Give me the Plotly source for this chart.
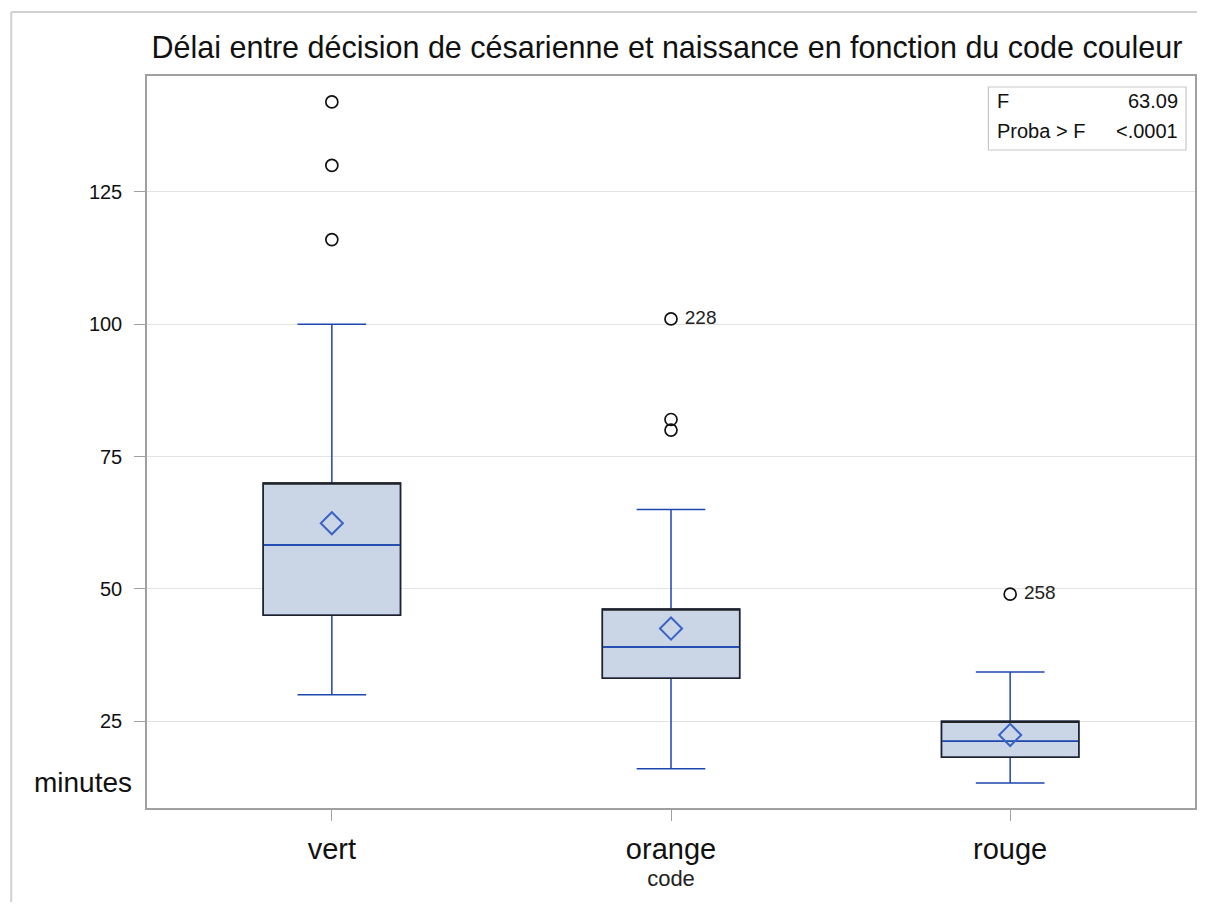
import plotly.graph_objects as go

categories = ["vert", "orange", "rouge"]
q1 = [45.0, 33.1, 18.2]
median = [58.3, 39.0, 21.2]
q3 = [70.0, 46.2, 25.0]
lower_whisker = [30.0, 16.0, 13.3]
upper_whisker = [100.0, 65.0, 34.3]
means = [62.4, 42.5, 22.4]

outlier_cat = ["vert", "vert", "vert", "orange", "orange", "orange", "rouge"]
outlier_val = [142.0, 130.0, 116.0, 101.0, 82.0, 80.0, 49.0]
outlier_lbl = ["", "", "", "228", "", "", "258"]

FONT = "Liberation Sans, Arial, sans-serif"
BLUE = "#1d47ae"
FILL = "#cad5e6"

# page offset (body margin) compensation
OX, OY = 8, 8
W, H = 1192, 894
PL, PR, PT, PB = 147 - OX, 1197 - OX, 76 - OY, 808 - OY
PW, PH = PR - PL, PB - PT


def px(x):
    return (x - OX - PL) / PW


def py(y):
    return (PB - (y - OY)) / PH


fig = go.Figure()

fig.add_trace(go.Box(
    x=categories, q1=q1, median=median, q3=q3,
    lowerfence=lower_whisker, upperfence=upper_whisker,
    fillcolor=FILL, line=dict(color=BLUE, width=1.5),
    whiskerwidth=0.5, width=0.405, boxpoints=False,
    showlegend=False, hoverinfo="skip",
))
fig.add_trace(go.Box(
    x=categories, q1=q1, median=q3, q3=q3,
    lowerfence=q1, upperfence=q3,
    fillcolor="rgba(0,0,0,0)", line=dict(color="#222222", width=1.5),
    whiskerwidth=0, width=0.405, boxpoints=False,
    showlegend=False, hoverinfo="skip",
))
fig.add_trace(go.Box(
    x=categories, q1=median, median=median, q3=median,
    lowerfence=median, upperfence=median,
    fillcolor="rgba(0,0,0,0)", line=dict(color=BLUE, width=1.5),
    whiskerwidth=0, width=0.40, boxpoints=False,
    showlegend=False, hoverinfo="skip",
))
fig.add_trace(go.Scatter(
    x=categories, y=means, mode="markers",
    marker=dict(symbol="diamond-open", size=17, color="#3a63c4", line=dict(width=2)),
    showlegend=False, hoverinfo="skip",
))
fig.add_trace(go.Scatter(
    x=outlier_cat, y=outlier_val, mode="markers+text",
    text=[" " + t if t else "" for t in outlier_lbl],
    textposition="middle right",
    textfont=dict(family=FONT, size=19, color="#222222"),
    marker=dict(symbol="circle-open", size=12, color="#111111", line=dict(width=1.7)),
    showlegend=False, hoverinfo="skip",
))

stat_font = dict(family=FONT, size=20, color="#111111")

fig.update_layout(
    width=W, height=H,
    margin=dict(l=PL, r=W - PR, t=PT, b=H - PB),
    paper_bgcolor="white", plot_bgcolor="white",
    boxmode="overlay",
    font=dict(family=FONT, color="#111111"),
    title=dict(
        text="Délai entre décision de césarienne et naissance en fonction du code couleur",
        x=px(668), xref="paper", xanchor="center", y=1 - (47 - OY) / H, yanchor="middle",
        font=dict(family=FONT, size=30.5, color="#111111"),
    ),
    xaxis=dict(
        type="category", categoryorder="array", categoryarray=categories,
        range=[-0.545, 2.545],
        showgrid=False, zeroline=False,
        showline=True, linecolor="#a0a0a0", linewidth=1.5, mirror=True,
        ticks="outside", ticklen=11, tickcolor="#a0a0a0",
        ticklabelstandoff=3,
        tickfont=dict(family=FONT, size=29, color="#111111"),
        title=dict(text="code", font=dict(family=FONT, size=22, color="#222222"), standoff=7),
    ),
    yaxis=dict(
        range=[8.6, 146.9],
        tickvals=[25, 50, 75, 100, 125],
        showgrid=True, gridcolor="#e3e3e3", gridwidth=1.2, zeroline=False,
        showline=True, linecolor="#a0a0a0", linewidth=1.5, mirror=True,
        ticks="outside", ticklen=11, tickcolor="#a0a0a0",
        ticklabelstandoff=8,
        tickfont=dict(family=FONT, size=20, color="#111111"),
    ),
    annotations=[
        dict(text="minutes", xref="paper", yref="paper",
             x=px(134), y=py(782), xanchor="right", yanchor="middle",
             showarrow=False, font=dict(family=FONT, size=28, color="#111111")),
        dict(text="F", xref="paper", yref="paper",
             x=px(997), y=py(101), xanchor="left", yanchor="middle",
             showarrow=False, font=stat_font),
        dict(text="Proba > F", xref="paper", yref="paper",
             x=px(997), y=py(131), xanchor="left", yanchor="middle",
             showarrow=False, font=stat_font),
        dict(text="63.09", xref="paper", yref="paper",
             x=px(1182), y=py(101), xanchor="right", yanchor="middle",
             showarrow=False, font=stat_font),
        dict(text="<.0001", xref="paper", yref="paper",
             x=px(1182), y=py(131), xanchor="right", yanchor="middle",
             showarrow=False, font=stat_font),
    ],
    shapes=[
        dict(type="rect", xref="paper", yref="paper",
             x0=px(990), x1=px(1188), y0=py(150), y1=py(87),
             line=dict(color="#c8c8c8", width=1.2), fillcolor="white", layer="below"),
        dict(type="line", xref="paper", yref="paper",
             x0=px(11), x1=px(11), y0=py(910), y1=py(12),
             line=dict(color="#d0d0d0", width=2)),
        dict(type="line", xref="paper", yref="paper",
             x0=px(11), x1=px(1205), y0=py(12), y1=py(12),
             line=dict(color="#d0d0d0", width=2)),
    ],
)

fig.write_html("out.html")
